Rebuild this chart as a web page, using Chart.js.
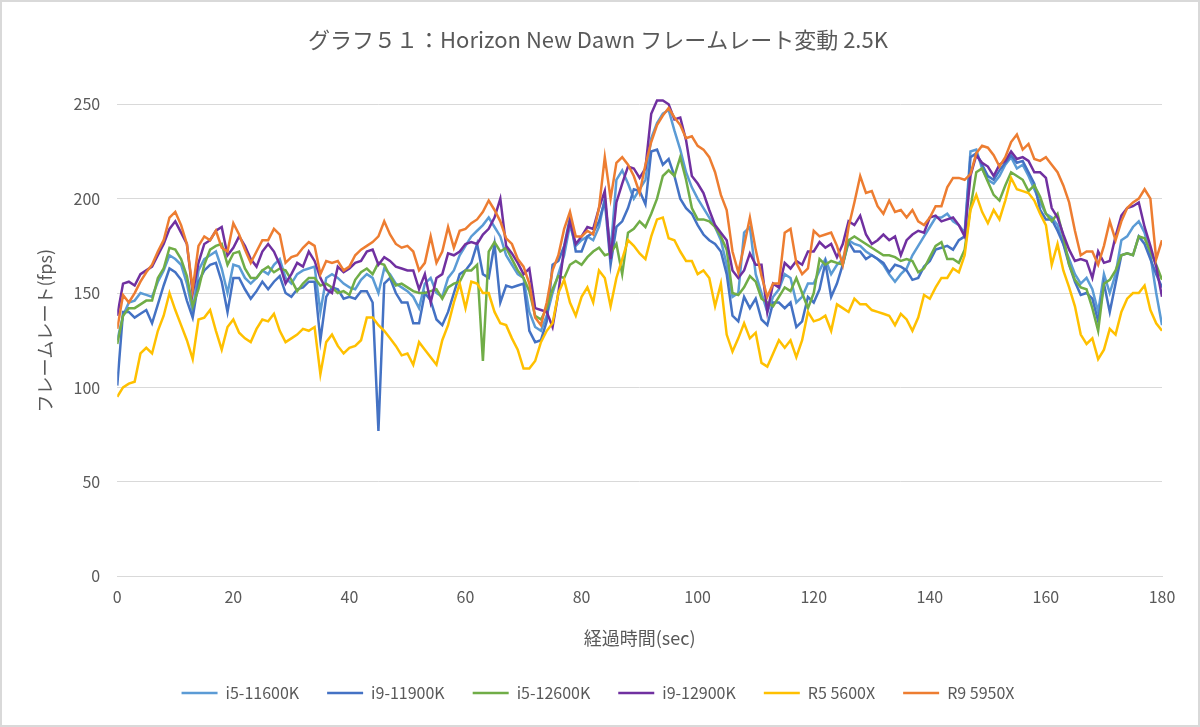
<!DOCTYPE html>
<html lang="ja">
<head>
<meta charset="utf-8">
<title>Horizon New Dawn フレームレート変動 2.5K</title>
<script src="https://cdn.jsdelivr.net/npm/chart.js@4.4.1/dist/chart.umd.min.js"></script>
<style>
    html, body { margin: 0; padding: 0; background: #fff; }
    #wrap {
        position: relative;
        width: 1200px;
        height: 727px;
        box-sizing: border-box;
        border: 2px solid #d9d9d9;
    }
</style>
</head>
<body>
<div id="wrap"><canvas id="frameChart"></canvas></div>
<script>
// elapsed time (sec), one sample per second
const seconds = Array.from({ length: 181 }, (_, i) => i);

const seriesNames = ['i5-11600K', 'i9-11900K', 'i5-12600K', 'i9-12900K', 'R5 5600X', 'R9 5950X'];
const seriesColors = ['#5B9BD5', '#4472C4', '#70AD47', '#7030A0', '#FFC000', '#ED7D31'];

const yTicks = [0, 50, 100, 150, 200, 250];
const xTicks = [0, 20, 40, 60, 80, 100, 120, 140, 160, 180];

// fps values
const i5_11600K = [
    125, 138, 145, 146, 150, 149, 148, 156, 162, 170, 168, 165, 155, 140, 162, 168, 170, 172, 163, 150,
    165, 164, 158, 155, 158, 162, 160, 165, 168, 158, 155, 160, 162, 163, 164, 140, 158, 160, 158, 155,
    153, 152, 157, 160, 158, 150, 163, 160, 155, 153, 151, 148, 142, 155, 158, 150, 148, 158, 162, 170,
    175, 180, 183, 186, 190, 185, 180, 170, 165, 160, 158, 140, 132, 130, 138, 150, 160, 170, 186, 175,
    178, 180, 178, 185, 200, 172, 210, 215, 208, 200, 205, 210, 232, 240, 245, 247, 236, 226, 214, 206,
    200, 195, 190, 185, 178, 165, 148, 150, 182, 185, 160, 150, 140, 148, 152, 160, 158, 145, 148, 155,
    155, 162, 168, 160, 165, 168, 178, 176, 175, 172, 170, 168, 165, 160, 156, 160, 163, 170, 175, 180,
    185, 190, 190, 192, 188, 186, 182, 225, 226, 216, 210, 208, 212, 218, 222, 216, 218, 212, 205, 198,
    192, 190, 186, 176, 168, 160, 155, 158, 152, 140, 160, 150, 160, 178, 180, 185, 188, 182, 170, 150,
    133
];
const i9_11900K = [
    101, 140, 140, 137, 139, 141, 134, 144, 154, 163, 161, 157, 146, 137, 156, 162, 165, 166, 156, 140,
    158, 158, 152, 147, 151, 156, 152, 156, 159, 150, 148, 152, 153, 156, 156, 125, 148, 153, 152, 147,
    148, 147, 151, 151, 145, 77, 155, 158, 150, 145, 145, 134, 134, 150, 146, 136, 133, 140, 150, 160,
    162, 166, 176, 160, 158, 176, 145, 154, 153, 154, 155, 130, 124, 125, 135, 165, 167, 175, 190, 172,
    172, 180, 182, 188, 199, 165, 185, 188, 195, 205, 204, 197, 225, 226, 218, 221, 212, 200, 195, 192,
    186, 181, 178, 176, 172, 160, 138, 135, 148, 142, 147, 136, 133, 145, 145, 142, 145, 132, 135, 148,
    145, 152, 166, 148, 155, 165, 177, 172, 172, 168, 170, 168, 166, 161, 165, 164, 162, 157, 158, 164,
    167, 173, 174, 175, 173, 178, 180, 222, 224, 218, 212, 210, 215, 219, 223, 219, 220, 214, 208, 194,
    189, 189, 183, 176, 165, 156, 149, 150, 147, 135, 155, 140, 155, 170, 171, 170, 180, 176, 168, 160,
    153
];
const i5_12600K = [
    123, 138, 142, 142, 144, 146, 146, 158, 163, 174, 173, 168, 159, 143, 152, 165, 173, 175, 176, 165,
    171, 172, 163, 158, 158, 162, 164, 161, 163, 162, 157, 151, 155, 158, 158, 154, 155, 153, 150, 151,
    149, 157, 161, 163, 160, 166, 165, 159, 154, 155, 153, 151, 150, 150, 151, 152, 147, 153, 155, 156,
    162, 162, 165, 114, 172, 177, 172, 174, 168, 162, 158, 151, 138, 136, 142, 152, 159, 158, 165, 167,
    165, 169, 172, 174, 170, 171, 176, 160, 182, 184, 188, 185, 192, 200, 212, 215, 212, 222, 210, 195,
    189, 189, 188, 185, 180, 173, 150, 149, 153, 159, 156, 147, 145, 143, 148, 153, 151, 158, 150, 142,
    150, 168, 165, 167, 166, 165, 178, 180, 178, 176, 174, 172, 170, 170, 169, 167, 168, 167, 161, 163,
    169, 175, 177, 168, 168, 166, 173, 195, 214, 216, 209, 202, 199, 207, 214, 212, 210, 204, 207, 201,
    192, 188, 192, 180, 165, 157, 153, 152, 142, 130, 155, 157, 162, 170, 171, 170, 180, 179, 172, 165,
    157
];
const i9_12900K = [
    138, 155, 156, 154, 160, 162, 164, 170, 176, 184, 188, 182, 176, 150, 166, 176, 178, 183, 185, 170,
    174, 180, 175, 168, 164, 172, 176, 172, 165, 155, 160, 166, 164, 172, 167, 158, 152, 150, 164, 161,
    163, 166, 167, 172, 173, 165, 169, 167, 164, 163, 162, 162, 152, 160, 145, 158, 160, 171, 170, 172,
    176, 177, 176, 181, 184, 190, 200, 175, 171, 166, 160, 163, 142, 141, 140, 132, 150, 174, 188, 176,
    180, 185, 184, 195, 204, 168, 198, 208, 217, 216, 211, 216, 245, 252, 252, 250, 242, 243, 231, 212,
    208, 203, 194, 186, 182, 178, 162, 158, 162, 171, 165, 165, 140, 155, 153, 166, 163, 167, 165, 172,
    172, 177, 174, 176, 169, 176, 188, 186, 191, 181, 176, 178, 181, 178, 180, 170, 178, 181, 183, 182,
    190, 191, 188, 189, 190, 186, 180, 212, 223, 219, 217, 212, 218, 220, 225, 221, 222, 220, 214, 214,
    211, 195, 190, 181, 173, 167, 168, 167, 158, 172, 166, 167, 180, 191, 195, 196, 198, 185, 175, 164,
    148
];
const r5_5600X = [
    95, 100, 102, 103, 118, 121, 118, 130, 138, 150, 141, 133, 125, 115, 136, 137, 141, 130, 120, 132,
    136, 129, 126, 124, 131, 136, 135, 139, 130, 124, 126, 128, 131, 130, 132, 107, 124, 128, 122, 118,
    121, 122, 125, 137, 137, 133, 130, 126, 122, 117, 118, 112, 124, 120, 116, 112, 125, 133, 145, 155,
    142, 156, 155, 150, 150, 140, 134, 133, 126, 120, 110, 110, 114, 124, 130, 134, 150, 157, 145, 138,
    148, 153, 145, 162, 158, 143, 158, 168, 178, 175, 171, 168, 180, 189, 190, 179, 178, 172, 167, 167,
    160, 162, 158, 143, 155, 128, 119, 126, 134, 126, 129, 113, 111, 118, 125, 121, 125, 116, 125, 140,
    135, 136, 138, 130, 144, 142, 140, 147, 144, 144, 141, 140, 139, 138, 133, 139, 136, 130, 137, 149,
    147, 153, 158, 158, 163, 161, 170, 194, 202, 193, 187, 194, 189, 199, 211, 205, 204, 203, 199, 192,
    186, 165, 176, 162, 153, 143, 128, 123, 126, 115, 120, 131, 128, 140, 147, 150, 150, 154, 141, 134,
    130
];
const r9_5950X = [
    131, 149, 145, 150, 156, 161, 165, 172, 178, 190, 193, 186, 176, 152, 175, 180, 178, 183, 174, 172,
    187, 181, 173, 166, 172, 178, 178, 184, 181, 166, 169, 170, 174, 177, 175, 160, 167, 166, 167, 162,
    164, 170, 173, 175, 177, 180, 188, 181, 176, 174, 175, 172, 162, 166, 180, 166, 172, 185, 174, 183,
    184, 187, 189, 193, 199, 194, 188, 179, 176, 168, 164, 155, 137, 133, 145, 162, 170, 184, 193, 180,
    180, 183, 181, 195, 222, 200, 219, 222, 218, 212, 203, 218, 230, 239, 244, 248, 243, 239, 232, 233,
    228, 226, 222, 214, 202, 194, 172, 161, 175, 190, 173, 159, 148, 155, 155, 182, 184, 166, 160, 163,
    183, 180, 181, 182, 175, 165, 185, 198, 212, 203, 204, 196, 192, 199, 193, 194, 190, 194, 188, 186,
    190, 196, 196, 206, 211, 211, 210, 213, 224, 228, 227, 223, 217, 222, 230, 234, 226, 229, 221, 220,
    222, 218, 214, 207, 198, 183, 170, 172, 172, 165, 175, 188, 178, 188, 195, 198, 200, 205, 200, 168,
    178
];

const seriesValues = [i5_11600K, i9_11900K, i5_12600K, i9_12900K, r5_5600X, r9_5950X];

const textColor = '#595959';
const gridColor = '#d9d9d9';
const fontFamily = '"Noto Sans CJK JP", "Noto Sans", sans-serif';

const datasets = seriesNames.map((name, i) => ({
    label: name,
    data: seconds.map((t, k) => ({ x: t, y: seriesValues[i][k] })),
    borderColor: seriesColors[i],
    backgroundColor: seriesColors[i],
    borderWidth: 2.5,
    pointRadius: 0,
    tension: 0,
    fill: false,
    // later series drawn on top, like the original
    order: seriesNames.length - i
}));

const ctx = document.getElementById('frameChart').getContext('2d');
new Chart(ctx, {
    type: 'line',
    data: { datasets: datasets },
    options: {
        responsive: true,
        maintainAspectRatio: false,
        animation: false,
        layout: { padding: { left: 32, right: 36, top: 12, bottom: 14 } },
        plugins: {
            title: {
                display: true,
                text: 'グラフ５１：Horizon New Dawn フレームレート変動 2.5K',
                color: textColor,
                font: { family: fontFamily, size: 22, weight: 'normal' },
                padding: { top: 12, bottom: 33 }
            },
            legend: {
                position: 'bottom',
                labels: {
                    color: textColor,
                    font: { family: fontFamily, size: 16 },
                    usePointStyle: true,
                    pointStyle: 'line',
                    pointStyleWidth: 36,
                    boxWidth: 36,
                    padding: 28,
                    sort: (a, b) => a.datasetIndex - b.datasetIndex
                }
            },
            tooltip: { enabled: false }
        },
        scales: {
            x: {
                type: 'linear',
                min: 0,
                max: 180,
                afterBuildTicks: axis => { axis.ticks = xTicks.map(v => ({ value: v })); },
                grid: { display: false, drawTicks: false },
                border: { display: true, color: gridColor },
                ticks: {
                    color: textColor,
                    font: { family: fontFamily, size: 16 },
                    padding: 11,
                    maxRotation: 0
                },
                title: {
                    display: true,
                    text: '経過時間(sec)',
                    color: textColor,
                    font: { family: fontFamily, size: 18 },
                    padding: { top: 10, bottom: 8 }
                }
            },
            y: {
                min: 0,
                max: 260,
                afterBuildTicks: axis => { axis.ticks = yTicks.map(v => ({ value: v })); },
                grid: { color: gridColor, lineWidth: 1, drawTicks: false },
                border: { display: false },
                ticks: {
                    color: textColor,
                    font: { family: fontFamily, size: 16 },
                    padding: 17
                },
                title: {
                    display: true,
                    text: 'フレームレート(fps)',
                    color: textColor,
                    font: { family: fontFamily, size: 18 },
                    padding: { top: 0, bottom: 1 }
                }
            }
        }
    }
});
</script>
</body>
</html>
